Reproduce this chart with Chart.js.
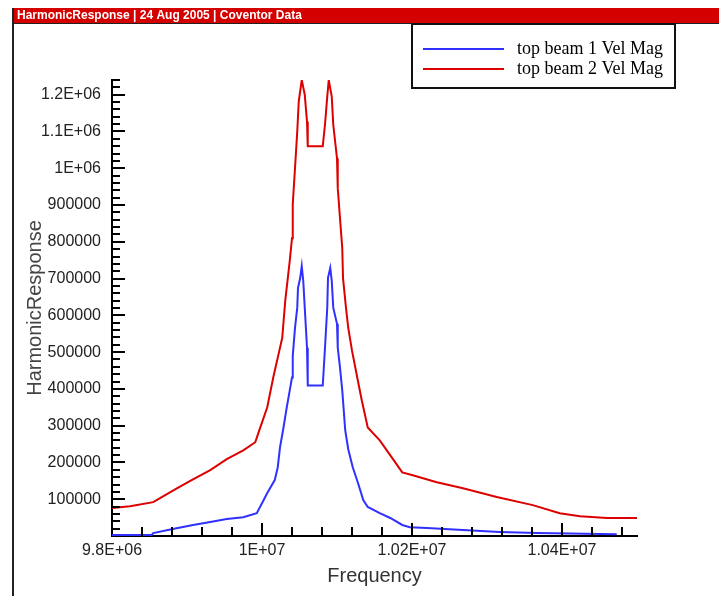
<!DOCTYPE html>
<html>
<head>
<meta charset="utf-8">
<title>HarmonicResponse</title>
<script src="https://cdn.jsdelivr.net/npm/chart.js@4"></script>
<style>
  body { margin: 0; background: #fff; }
  canvas { display: block; }
</style>
</head>
<body>
<canvas id="chart" width="719" height="596"></canvas>
<script>
const headerText = "HarmonicResponse | 24 Aug 2005 | Coventor Data";
const seriesNames = ["top beam 1 Vel Mag", "top beam 2 Vel Mag"];
const seriesColors = ["#3030ff", "#dd0000"];

// top beam 1 (azul)
const beam1Freq = [9800000, 9853000, 9855000, 9881000, 9908000, 9931000, 9953000, 9975000, 9993000,
  10000000, 10007000, 10017000, 10021000, 10024000, 10028000, 10033000, 10037000, 10040000, 10041000,
  10044000, 10047000, 10048000, 10051000, 10053000, 10055000, 10057000, 10060000, 10061000,
  10081000, 10084000, 10087000, 10088000, 10091000, 10093000, 10095000, 10100000, 10101000,
  10104000, 10107000, 10111000, 10115000, 10121000, 10128000, 10135000, 10141000, 10157000,
  10171000, 10187000, 10197000, 10220000, 10268000, 10317000, 10367000, 10473000];
const beam1Vals = [3000, 3000, 8000, 19000, 30000, 38000, 46000, 51000, 62000,
  89000, 117000, 152000, 187000, 241000, 287000, 350000, 396000, 431000, 490000,
  566000, 621000, 675000, 702000, 734000, 694000, 621000, 512000, 409000,
  409000, 512000, 621000, 702000, 729000, 694000, 621000, 577000, 512000,
  458000, 396000, 287000, 236000, 187000, 144000, 98000, 79000, 62000,
  49000, 30000, 24000, 22000, 16000, 11000, 8000, 5000];

// top beam 2 (rojo)
const beam2Freq = [9800000, 9824000, 9855000, 9864000, 9887000, 9908000, 9931000, 9953000, 9975000,
  9991000, 9995000, 10007000, 10015000, 10021000, 10027000, 10031000, 10037000, 10040000, 10041000,
  10044000, 10047000, 10049000, 10053000, 10057000, 10060000, 10061000, 10081000, 10084000,
  10087000, 10089000, 10093000, 10095000, 10100000, 10101000, 10104000, 10107000, 10108000,
  10112000, 10115000, 10120000, 10127000, 10133000, 10141000, 10157000, 10173000, 10187000,
  10201000, 10233000, 10268000, 10313000, 10361000, 10397000, 10424000, 10460000, 10500000];
const beam2Vals = [76000, 81000, 92000, 103000, 130000, 154000, 179000, 209000, 233000,
  255000, 279000, 350000, 431000, 485000, 539000, 640000, 748000, 810000, 902000,
  1000000, 1100000, 1182000, 1240000, 1200000, 1127000, 1060000, 1060000, 1119000,
  1195000, 1240000, 1195000, 1119000, 1027000, 946000, 864000, 783000, 702000,
  620000, 566000, 504000, 431000, 369000, 295000, 260000, 214000, 173000,
  165000, 146000, 130000, 106000, 84000, 62000, 54000, 49000, 49000];

const xTickValues = [9800000, 10000000, 10200000, 10400000];
const xTickLabels = ["9.8E+06", "1E+07", "1.02E+07", "1.04E+07"];
const yTickValues = [100000, 200000, 300000, 400000, 500000, 600000, 700000, 800000, 900000, 1000000, 1100000, 1200000];
const yTickLabels = ["100000", "200000", "300000", "400000", "500000", "600000", "700000", "800000", "900000", "1E+06", "1.1E+06", "1.2E+06"];

const xMin = 9800000, xMax = 10500000, xMinor = 40000;
const yMin = 0, yMax = 1240000, yMinor = 20000;

function puntos(xs, ys) {
  return xs.map((x, i) => ({ x: x, y: ys[i] }));
}

function etiqueta(valores, textos, v) {
  const i = valores.findIndex((t) => Math.abs(t - v) < 1);
  return i >= 0 ? textos[i] : "";
}

// posiciones de todas las marcas (mayores y menores)
function marcas(desde, hasta, paso) {
  const out = [];
  for (let k = 0; desde + k * paso <= hasta + 0.5; k++) out.push({ value: desde + k * paso });
  return out;
}

const sansFont = "'Liberation Sans', Arial, sans-serif";

// barra de titulo, marco, ticks hacia dentro y leyenda
const decor = {
  id: "decor",
  beforeDraw(chart) {
    const ctx = chart.ctx;
    ctx.save();
    ctx.fillStyle = "#fff";
    ctx.fillRect(0, 0, chart.width, chart.height);
    ctx.fillStyle = "#d40000";
    ctx.fillRect(13, 8, chart.width - 13, 15);
    ctx.fillStyle = "#222";
    ctx.fillRect(13, 23, chart.width - 13, 1);
    ctx.fillRect(12, 8, 2, chart.height - 8);
    ctx.fillStyle = "#fff";
    ctx.font = "bold 12px " + sansFont;
    ctx.textBaseline = "middle";
    ctx.fillText(headerText, 17, 16);
    ctx.restore();
  },
  afterDraw(chart) {
    const { ctx, chartArea, scales } = chart;
    ctx.save();
    ctx.strokeStyle = "#000";
    ctx.lineWidth = 2;
    scales.y.ticks.forEach((t) => {
      const k = Math.round((t.value - yMin) / yMinor);
      if (k === 0) return;
      const py = Math.round(scales.y.getPixelForValue(t.value));
      const len = k % 5 === 0 ? 13 : 8;
      ctx.beginPath();
      ctx.moveTo(chartArea.left, py);
      ctx.lineTo(chartArea.left + len, py);
      ctx.stroke();
    });
    scales.x.ticks.forEach((t) => {
      const k = Math.round((t.value - xMin) / xMinor);
      if (k === 0) return;
      const px = Math.round(scales.x.getPixelForValue(t.value));
      const len = k % 5 === 0 ? 13 : 9;
      ctx.beginPath();
      ctx.moveTo(px, chartArea.bottom);
      ctx.lineTo(px, chartArea.bottom - len);
      ctx.stroke();
    });

    // leyenda
    ctx.lineWidth = 2;
    ctx.strokeStyle = "#111";
    ctx.strokeRect(412, 24, 263, 64);
    ctx.font = "18px 'Liberation Serif', 'Times New Roman', serif";
    ctx.textBaseline = "middle";
    ctx.fillStyle = "#000";
    chart.data.datasets.forEach((ds, i) => {
      const y = 49 + i * 20;
      ctx.strokeStyle = ds.borderColor;
      ctx.beginPath();
      ctx.moveTo(423, y);
      ctx.lineTo(504, y);
      ctx.stroke();
      ctx.fillText(ds.label, 517, y);
    });
    ctx.restore();
  }
};

const config = {
  type: "line",
  data: {
    datasets: [
      {
        label: seriesNames[0],
        data: puntos(beam1Freq, beam1Vals),
        borderColor: seriesColors[0],
        borderWidth: 2,
        pointRadius: 0,
        tension: 0,
      },
      {
        label: seriesNames[1],
        data: puntos(beam2Freq, beam2Vals),
        borderColor: seriesColors[1],
        borderWidth: 2,
        pointRadius: 0,
        tension: 0,
      },
    ],
  },
  options: {
    responsive: false,
    animation: false,
    events: [],
    layout: { padding: { top: 80, right: 82, bottom: 0, left: 0 } },
    plugins: {
      legend: { display: false },
      tooltip: { enabled: false },
    },
    scales: {
      x: {
        type: "linear",
        min: xMin,
        max: xMax,
        grid: { display: false, drawTicks: false },
        border: { display: true, color: "#000", width: 2 },
        afterBuildTicks: (scale) => { scale.ticks = marcas(xMin, 10480000, xMinor); },
        ticks: {
          autoSkip: false,
          maxRotation: 0,
          minRotation: 0,
          padding: 5,
          color: "#222",
          font: { family: sansFont, size: 16 },
          callback: (v) => etiqueta(xTickValues, xTickLabels, v),
        },
        title: {
          display: true,
          text: "Frequency",
          color: "#333",
          font: { family: sansFont, size: 20 },
          padding: { top: 0, bottom: 8 },
        },
        afterFit: (scale) => { scale.height = 60; },
      },
      y: {
        min: yMin,
        max: yMax,
        grid: { display: false, drawTicks: false },
        border: { display: true, color: "#000", width: 2 },
        afterBuildTicks: (scale) => { scale.ticks = marcas(yMin, yMax, yMinor); },
        ticks: {
          autoSkip: false,
          padding: 11,
          color: "#222",
          font: { family: sansFont, size: 16 },
          callback: (v) => etiqueta(yTickValues, yTickLabels, v),
        },
        title: {
          display: true,
          text: "HarmonicResponse",
          color: "#444",
          font: { family: sansFont, size: 20 },
          padding: { top: 23, bottom: 0 },
        },
        afterFit: (scale) => { scale.width = 112; },
      },
    },
  },
  plugins: [decor],
};

new Chart(document.getElementById("chart").getContext("2d"), config);
</script>
</body>
</html>
